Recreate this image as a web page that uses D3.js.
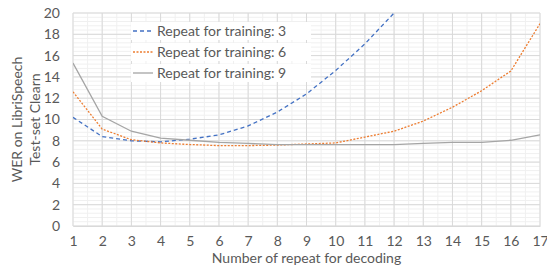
<!DOCTYPE html>
<html><head><meta charset="utf-8">
<script src="https://cdn.jsdelivr.net/npm/d3@7"></script>
<style>body{margin:0;background:#fff;font-family:Lato,"Open Sans",sans-serif;}</style>
</head><body><svg id="c" width="547" height="268"></svg>
<script>
const decodeRepeats = [1,2,3,4,5,6,7,8,9,10,11,12,13,14,15,16,17];
const seriesNames = ["Repeat for training: 3","Repeat for training: 6","Repeat for training: 9"];
const train3 = [10.2,8.4,8.0,7.9,8.15,8.55,9.4,10.7,12.4,14.6,17.1,20.0,null,null,null,null,null];
const train6 = [12.6,9.1,8.1,7.8,7.65,7.55,7.55,7.6,7.7,7.8,8.35,8.9,9.85,11.15,12.7,14.55,19.0];
const train9 = [15.3,10.3,8.9,8.25,8.05,7.85,7.75,7.65,7.65,7.65,7.65,7.65,7.75,7.85,7.85,8.05,8.55];
const yTicks = [0,2,4,6,8,10,12,14,16,18,20];

const svg = d3.select("#c");
const m = {l:73, r:7, t:13, b:42};
const W = 547, H = 268;
const x = d3.scaleLinear().domain([1,17]).range([m.l, W-m.r]);
const y = d3.scaleLinear().domain([0,20]).range([H-m.b, m.t]);

const g = svg.append("g");
// minor grid
const minorY = d3.range(0, 20.001, 0.4);
g.selectAll(".my").data(minorY).enter().append("line")
  .attr("x1", x(1)).attr("x2", x(17)).attr("y1", d=>y(d)).attr("y2", d=>y(d))
  .attr("stroke", "#f0f0f0").attr("stroke-width", 1);
const minorX = d3.range(1, 17.001, 0.5);
g.selectAll(".mx").data(minorX).enter().append("line")
  .attr("y1", y(0)).attr("y2", y(20)).attr("x1", d=>x(d)).attr("x2", d=>x(d))
  .attr("stroke", "#f0f0f0").attr("stroke-width", 1);
// major grid
g.selectAll(".gy").data(yTicks).enter().append("line")
  .attr("x1", x(1)).attr("x2", x(17)).attr("y1", d=>y(d)).attr("y2", d=>y(d))
  .attr("stroke", "#d9d9d9").attr("stroke-width", 1);
g.selectAll(".gx").data(decodeRepeats).enter().append("line")
  .attr("y1", y(0)).attr("y2", y(20)).attr("x1", d=>x(d)).attr("x2", d=>x(d))
  .attr("stroke", "#d9d9d9").attr("stroke-width", 1);

// axes labels
const yAxis = d3.axisLeft(y).tickValues(yTicks).tickSize(0).tickPadding(13);
const ya = svg.append("g").attr("transform", `translate(${m.l},0)`).call(yAxis);
ya.select(".domain").remove();
ya.selectAll("text").attr("font-family","Lato,sans-serif").attr("font-size",14).attr("fill","#595959");

const xAxis = d3.axisBottom(x).tickValues(decodeRepeats).tickFormat(d3.format("d")).tickSize(0).tickPadding(10);
const xa = svg.append("g").attr("transform", `translate(0,${y(0)})`).call(xAxis);
xa.select(".domain").attr("stroke","#d9d9d9");
xa.selectAll("text").attr("font-family","Lato,sans-serif").attr("font-size",14).attr("fill","#595959");

svg.append("text").attr("x", (x(1)+x(17))/2).attr("y", 263).attr("text-anchor","middle")
  .attr("font-family","Lato,sans-serif").attr("font-size",14).attr("fill","#595959")
  .text("Number of repeat for decoding");
const yt = svg.append("text").attr("transform", `translate(0,${(y(0)+y(20))/2}) rotate(-90)`)
  .attr("text-anchor","middle").attr("font-family","Lato,sans-serif").attr("font-size",14).attr("fill","#595959");
yt.append("tspan").attr("x",0).attr("y",22).text("WER on LibriSpeech");
yt.append("tspan").attr("x",0).attr("y",40).text("Test-set Clearn");

// clip
svg.append("clipPath").attr("id","pc").append("rect")
  .attr("x", x(1)).attr("y", y(20)).attr("width", x(17)-x(1)).attr("height", y(0)-y(20));

const styles = [
  {data: train3, color:"#4472C4", dash:"4,3"},
  {data: train6, color:"#ED7D31", dash:"2,1.5"},
  {data: train9, color:"#A5A5A5", dash:null}
];
const line = d3.line().defined(d=>d[1]!=null).x(d=>x(d[0])).y(d=>y(d[1]));
styles.forEach(s=>{
  svg.append("path").datum(decodeRepeats.map((r,i)=>[r, s.data[i]]))
    .attr("d", line).attr("fill","none").attr("stroke", s.color)
    .attr("stroke-width", 1.3).attr("stroke-dasharray", s.dash)
    .attr("clip-path","url(#pc)");
});

// legend
const lg = svg.append("g");
const ly = [31, 52, 73];
styles.forEach((s,i)=>{
  lg.append("rect").attr("x",131).attr("y",ly[i]-9).attr("width",180).attr("height",18).attr("fill","#fff");
});
styles.forEach((s,i)=>{
  lg.append("line").attr("x1",133).attr("x2",153).attr("y1",ly[i]).attr("y2",ly[i])
    .attr("stroke",s.color).attr("stroke-width",1.3).attr("stroke-dasharray",s.dash);
  lg.append("text").attr("x",157).attr("y",ly[i]+5).attr("font-family","Lato,sans-serif")
    .attr("font-size",14).attr("fill","#595959").text(seriesNames[i]);
});
</script></body></html>
